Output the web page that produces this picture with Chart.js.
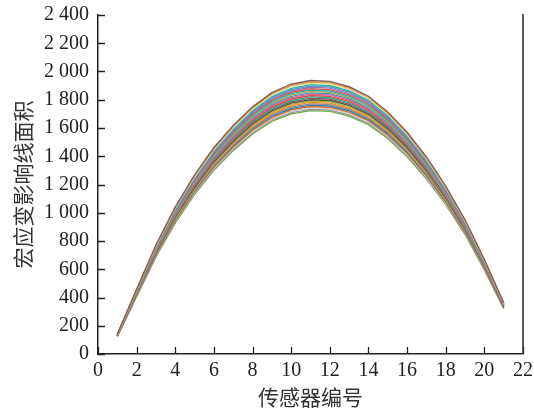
<!DOCTYPE html>
<html><head><meta charset="utf-8">
<script src="https://cdn.jsdelivr.net/npm/chart.js@4.4.1/dist/chart.umd.min.js"></script>
<style>html,body{margin:0;padding:0;background:#fff;}#wrap{width:534px;height:410px;}</style>
</head><body><div id="wrap"><canvas id="c" width="534" height="410"></canvas></div>
<script>
const sensors = [1,2,3,4,5,6,7,8,9,10,11,12,13,14,15,16,17,18,19,20,21];
const xTickValues = [0,2,4,6,8,10,12,14,16,18,20,22];
const xTickLabels = ['0','2','4','6','8','10','12','14','16','18','20','22'];
const yTickValues = [0,200,400,600,800,1000,1200,1400,1600,1800,2000,2200,2400];
const yTickLabels = ['0','200','400','600','800','1 000','1 200','1 400','1 600','1 800','2 000','2 200','2 400'];
const xTitle = '传感器编号';
const yTitle = '宏应变影响线面积';

const line01 = [140,458,772,1042,1268,1462,1618,1750,1850,1910,1936,1930,1892,1825,1714,1570,1395,1188,950,668,362];
const line02 = [139,456,768,1037,1262,1455,1610,1741,1841,1900,1926,1920,1883,1816,1705,1562,1388,1182,945,665,360];
const line03 = [139,453,764,1032,1255,1447,1602,1733,1832,1891,1917,1911,1873,1807,1697,1554,1381,1176,941,661,358];
const line04 = [138,451,760,1026,1249,1440,1594,1724,1822,1881,1907,1901,1864,1798,1688,1547,1374,1170,936,658,357];
const line05 = [137,449,757,1021,1243,1433,1586,1715,1813,1872,1897,1891,1854,1789,1680,1539,1367,1164,931,655,355];
const line06 = [137,447,753,1016,1236,1426,1578,1706,1804,1862,1888,1882,1845,1779,1671,1531,1360,1158,926,651,353];
const line07 = [136,444,749,1011,1230,1418,1570,1698,1795,1853,1878,1872,1835,1770,1663,1523,1353,1152,922,648,351];
const line08 = [135,442,745,1006,1224,1411,1561,1689,1785,1843,1868,1862,1826,1761,1654,1515,1346,1146,917,645,349];
const line09 = [134,440,741,1000,1217,1404,1553,1680,1776,1834,1859,1853,1816,1752,1645,1507,1339,1141,912,641,348];
const line10 = [134,437,737,995,1211,1396,1545,1671,1767,1824,1849,1843,1807,1743,1637,1499,1332,1135,907,638,346];
const line11 = [133,435,733,990,1205,1389,1537,1663,1758,1815,1839,1834,1797,1734,1628,1492,1325,1129,903,635,344];
const line12 = [132,433,730,985,1198,1382,1529,1654,1748,1805,1830,1824,1788,1725,1620,1484,1318,1123,898,631,342];
const line13 = [132,431,726,980,1192,1374,1521,1645,1739,1795,1820,1814,1778,1715,1611,1476,1311,1117,893,628,340];
const line14 = [131,428,722,974,1186,1367,1513,1636,1730,1786,1810,1805,1769,1706,1603,1468,1304,1111,888,625,339];
const line15 = [130,426,718,969,1179,1360,1505,1628,1721,1776,1800,1795,1760,1697,1594,1460,1297,1105,884,621,337];
const line16 = [130,424,714,964,1173,1352,1497,1619,1711,1767,1791,1785,1750,1688,1586,1452,1290,1099,879,618,335];
const line17 = [129,421,710,959,1167,1345,1489,1610,1702,1757,1781,1776,1741,1679,1577,1444,1283,1093,874,615,333];
const line18 = [128,419,706,953,1160,1338,1481,1601,1693,1748,1771,1766,1731,1670,1568,1437,1276,1087,869,611,331];
const line19 = [127,417,703,948,1154,1330,1472,1593,1684,1738,1762,1756,1722,1661,1560,1429,1269,1081,865,608,329];
const line20 = [127,415,699,943,1148,1323,1464,1584,1674,1729,1752,1747,1712,1652,1551,1421,1262,1075,860,605,328];
const line21 = [126,412,695,938,1141,1316,1456,1575,1665,1719,1742,1737,1703,1642,1543,1413,1255,1069,855,601,326];
const line22 = [125,410,691,933,1135,1309,1448,1566,1656,1709,1733,1727,1693,1633,1534,1405,1248,1063,850,598,324];
const line23 = [125,408,687,927,1129,1301,1440,1558,1647,1700,1723,1718,1684,1624,1526,1397,1241,1057,846,595,322];

const allLines = [line01,line02,line03,line04,line05,line06,line07,line08,line09,line10,line11,line12,line13,line14,line15,line16,line17,line18,line19,line20,line21,line22,line23];
const lineColors = ['#8c5a5a','#d6a84c','#e8e0a0','#20b2b0','#6f8fc8','#8c7ab8','#e0574f','#22b5b5','#b0b04a','#5c84c4','#d86a8a','#d84a3f','#2aa89f','#8c6050','#555555','#b5b43a','#f08a2a','#8a8a8a','#3a7fbf','#e06a20','#d0d0d0','#999999','#6cb040'];

const serif = "'Liberation Serif','Times New Roman',serif";
const cjk = "'Noto Sans CJK SC','Liberation Serif',sans-serif";

const inwardTicks = {
  id: 'inwardTicks',
  afterDraw(chart) {
    const {ctx, chartArea, scales} = chart;
    ctx.save();
    ctx.strokeStyle = '#222';
    ctx.lineWidth = 1.3;
    ctx.beginPath();
    scales.x.ticks.forEach(t => {
      const px = Math.round(scales.x.getPixelForValue(t.value)) + 0.5;
      ctx.moveTo(px, chartArea.bottom);
      ctx.lineTo(px, chartArea.bottom - 7);
    });
    scales.y.ticks.forEach(t => {
      const py = Math.round(scales.y.getPixelForValue(t.value)) + 0.5;
      ctx.moveTo(chartArea.left, py);
      ctx.lineTo(chartArea.left + 7, py);
    });
    ctx.stroke();
    ctx.beginPath();
    ctx.lineWidth = 1.6;
    ctx.strokeStyle = '#333';
    ctx.moveTo(chartArea.right, chartArea.top - 1);
    ctx.lineTo(chartArea.right, chartArea.bottom);
    ctx.stroke();
    ctx.restore();
  }
};

const datasets = allLines.map((vals, k) => ({
  data: sensors.map((s, i) => ({x: s, y: vals[i]})),
  borderColor: lineColors[k],
  borderWidth: 1.4,
  pointRadius: 0,
  tension: 0,
  fill: false
}));

new Chart(document.getElementById('c').getContext('2d'), {
  type: 'line',
  data: {datasets},
  options: {
    responsive: false,
    animation: false,
    devicePixelRatio: 1,
    layout: {padding: {left: 0, right: 11, top: 15, bottom: 0}},
    plugins: {legend: {display: false}, tooltip: {enabled: false}},
    scales: {
      x: {
        type: 'linear', min: 0, max: 22,
        afterBuildTicks: s => { s.ticks = xTickValues.map(v => ({value: v})); },
        afterFit: s => { s.height = 56; s.paddingLeft = 0; s.paddingRight = 0; },
        ticks: {callback: (v, i) => xTickLabels[i], font: {family: serif, size: 20}, color: '#222', padding: 5, maxRotation: 0, autoSkip: false},
        grid: {display: true, drawOnChartArea: false, drawTicks: false},
        border: {display: true, color: '#222', width: 1.5},
        title: {display: true, text: xTitle, font: {family: cjk, size: 21}, color: '#333', padding: {top: 0, bottom: 0}}
      },
      y: {
        type: 'linear', min: 0, max: 2400,
        afterBuildTicks: s => { s.ticks = yTickValues.map(v => ({value: v})); },
        afterFit: s => { s.width = 98; s.paddingTop = 0; s.paddingBottom = 0; },
        ticks: {callback: (v, i) => yTickLabels[i], font: {family: serif, size: 20}, color: '#222', padding: 9, autoSkip: false},
        grid: {display: true, drawOnChartArea: false, drawTicks: false},
        border: {display: true, color: '#222', width: 1.5},
        title: {display: true, text: yTitle, font: {family: cjk, size: 21}, color: '#333', padding: {top: 10, bottom: 0}}
      }
    }
  },
  plugins: [inwardTicks]
});
</script></body></html>
